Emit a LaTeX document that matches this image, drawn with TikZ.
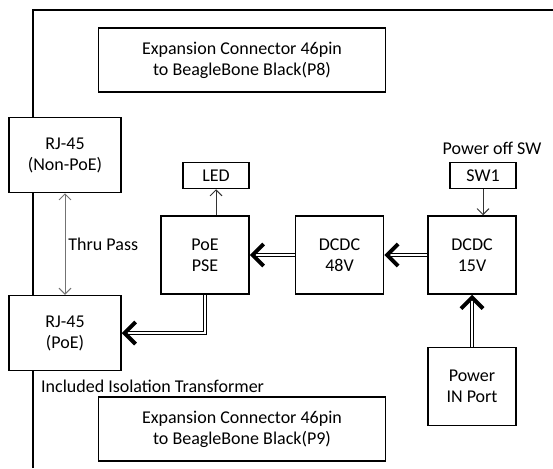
\documentclass[tikz,border=0pt]{standalone}
\usepackage{fontspec}
\setmainfont{Carlito}
\usetikzlibrary{arrows.meta, positioning}
\newcommand{\blockfont}{\fontsize{18}{21}\selectfont}
\tikzset{
	blk/.style={rectangle, draw=black, line width=1.5pt, fill=white, align=center, inner sep=0pt, font=\blockfont},
	header/.style={blk, minimum width=287pt, minimum height=64pt},
	unit/.style={blk, minimum width=88pt, minimum height=78pt},
	jack/.style={blk, minimum width=112pt, minimum height=75pt},
	tag/.style={blk, minimum width=66pt, minimum height=26pt},
	note/.style={inner sep=0pt, font=\blockfont},
	power/.style={double=white, double distance=2.2pt, line width=1.2pt, -{Straight Barb[length=11pt, width=22pt, line width=4pt]}},
	signal/.style={line width=0.9pt, draw=black!80, -{Straight Barb[length=6pt, width=12pt]}},
	thru/.style={line width=0.9pt, draw=black!55, {Straight Barb[length=6pt, width=12pt]}-{Straight Barb[length=6pt, width=12pt]}},
}

\begin{document}
\begin{tikzpicture}[x=1pt, y=-1pt, node distance=26pt]
	\useasboundingbox (0,0) rectangle (553,468);
	% board edge
	\draw[line width=1.5pt] (33,468) -- (33,10) -- (553,10);

	\node[header] (p8) at (242,60) {Expansion Connector 46pin\\to BeagleBone Black(P8)};
	\node[header] (p9) at (242,429) {Expansion Connector 46pin\\to BeagleBone Black(P9)};

	\node[jack] (rjn) at (65,155) {RJ-45\\(Non-PoE)};
	\node[jack] (rjp) at (65,333) {RJ-45\\(PoE)};
	\node[note, anchor=west] (iso) at (41,386) {Included Isolation Transformer};

	\node[unit] (d15) at (472,255) {DCDC\\15V};
	\node[unit, left=43pt of d15] (d48) {DCDC\\48V};
	\node[unit, left=45pt of d48] (pse) {PoE\\PSE};
	\node[tag, above=of pse.north east, anchor=south east] (led) {LED};
	\node[tag, above=of d15.north east, anchor=south east] (sw) {SW1};
	\node[note] (swl) at (492,148) {Power off SW};
	\node[unit, below=52pt of d15] (pin) {Power\\IN Port};

	\draw[thru] (rjn) -- node[note, right=3pt] {Thru Pass} (rjp);
	\draw[signal] (pse.north -| led) -- (led);
	\draw[signal] (sw.south -| sw) -- (d15.north -| sw);
	\draw[power] (pin) -- (d15);
	\draw[power] (d15) -- (d48);
	\draw[power] (d48) -- (pse);
	\draw[power] (pse) |- (rjp);
\end{tikzpicture}
\end{document}
